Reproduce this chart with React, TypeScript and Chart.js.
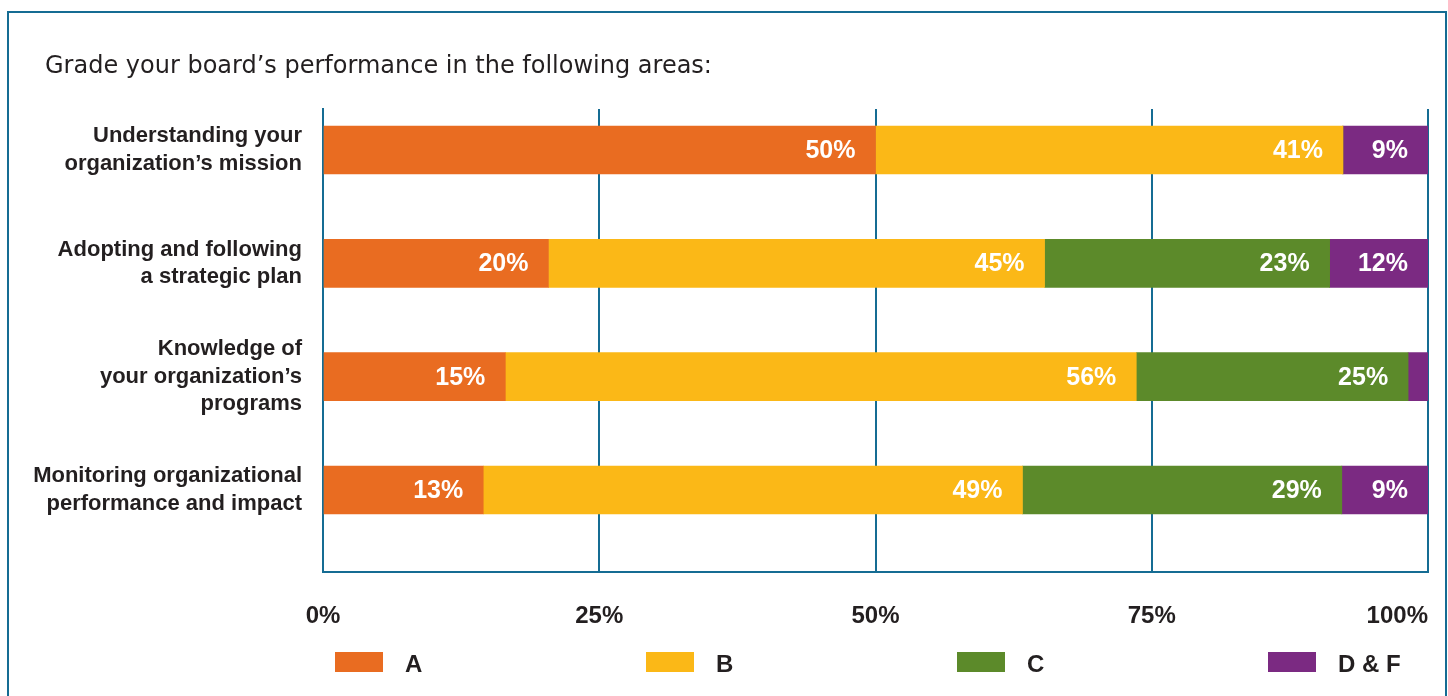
import React, { useEffect, useRef } from 'react';
import { Chart, registerables } from 'chart.js';

Chart.register(...registerables);

// ---------- data ----------
const TITLE = 'Grade your board’s performance in the following areas:';

const CATEGORIES: string[][] = [
  ['Understanding your', 'organization’s mission'],
  ['Adopting and following', 'a strategic plan'],
  ['Knowledge of', 'your organization’s', 'programs'],
  ['Monitoring organizational', 'performance and impact'],
];

const SERIES = ['A', 'B', 'C', 'D & F'];

// segment widths as drawn (share of the 0–100% axis)
const A_VALUES = [50.0, 20.4, 16.5, 14.5];
const B_VALUES = [42.3, 44.9, 57.1, 48.8];
const C_VALUES = [0, 25.8, 24.6, 28.9];
const DF_VALUES = [7.7, 8.9, 1.8, 7.8];

// printed segment labels
const A_LABELS = ['50%', '20%', '15%', '13%'];
const B_LABELS = ['41%', '45%', '56%', '49%'];
const C_LABELS = ['', '23%', '25%', '29%'];
const DF_LABELS = ['9%', '12%', '', '9%'];

const X_TICKS = [0, 25, 50, 75, 100];
const X_TICK_LABELS = ['0%', '25%', '50%', '75%', '100%'];

// ---------- styles ----------
const COLORS = ['#E96C21', '#FBB817', '#5C8A2A', '#7B2A82'];
const TEAL = '#156C93';
const INK = '#231F20';
const BOLD_FAMILY = '"Liberation Sans", Arial, sans-serif';
const TITLE_FAMILY = '"DejaVu Sans", sans-serif';

const VALUE_SETS = [A_VALUES, B_VALUES, C_VALUES, DF_VALUES];
const LABEL_SETS = [A_LABELS, B_LABELS, C_LABELS, DF_LABELS];

const customDraw = {
  id: 'customDraw',
  afterDatasetsDraw(chart: any) {
    const ctx = chart.ctx;
    ctx.save();
    ctx.fillStyle = '#FFFFFF';
    ctx.font = `bold 25px ${BOLD_FAMILY}`;
    ctx.textAlign = 'right';
    ctx.textBaseline = 'middle';
    chart.data.datasets.forEach((_ds: any, di: number) => {
      const meta = chart.getDatasetMeta(di);
      meta.data.forEach((el: any, j: number) => {
        const text = LABEL_SETS[di][j];
        if (!text) return;
        ctx.fillText(text, el.x - 20, el.y + 1);
      });
    });
    ctx.restore();
  },
  afterDraw(chart: any) {
    const { ctx, chartArea, scales } = chart;
    ctx.save();
    // title
    ctx.fillStyle = INK;
    ctx.font = `24px ${TITLE_FAMILY}`;
    ctx.textAlign = 'left';
    ctx.textBaseline = 'alphabetic';
    ctx.fillText(TITLE, 45, 73);

    // x tick labels
    ctx.font = `bold 24px ${BOLD_FAMILY}`;
    X_TICKS.forEach((v, i) => {
      const px = scales.x.getPixelForValue(v);
      ctx.textAlign = i === X_TICKS.length - 1 ? 'right' : 'center';
      ctx.fillText(X_TICK_LABELS[i], px, chartArea.bottom + 51);
    });

    // legend
    const cy = chartArea.bottom + 90;
    chart.data.datasets.forEach((ds: any, i: number) => {
      const x = chartArea.left + 12 + i * 311;
      ctx.fillStyle = ds.backgroundColor;
      ctx.fillRect(x, cy - 10, 48, 20);
      ctx.fillStyle = INK;
      ctx.textAlign = 'left';
      ctx.textBaseline = 'alphabetic';
      ctx.fillText(ds.label, x + 70, cy + 9.5);
    });
    ctx.restore();
  },
};

export default function App() {
  const ref = useRef<HTMLCanvasElement>(null);

  useEffect(() => {
    if (!ref.current) return;
    const chart = new Chart(ref.current, {
      type: 'bar',
      data: {
        datasets: SERIES.map((name, si) => ({
          label: name,
          data: VALUE_SETS[si].map((v, i) => ({ x: v, y: i })),
          backgroundColor: COLORS[si],
          borderWidth: 0,
          barThickness: 48,
        })),
      },
      options: {
        indexAxis: 'y',
        responsive: false,
        animation: false,
        layout: { padding: { top: 109, bottom: 124, left: 0, right: 20 } },
        plugins: {
          legend: { display: false },
          tooltip: { enabled: false },
          title: { display: false },
        },
        scales: {
          x: {
            type: 'linear',
            position: 'bottom',
            stacked: true,
            offset: false,
            min: 0,
            max: 100,
            ticks: { display: false, stepSize: 25 },
            afterBuildTicks: (scale: any) => {
              scale.ticks = X_TICKS.map((v) => ({ value: v }));
            },
            grid: { color: TEAL, lineWidth: 2, drawTicks: false, offset: false },
            border: { display: true, color: TEAL, width: 2 },
            afterFit: (scale: any) => {
              scale.height = 0;
              scale.paddingLeft = 0;
              scale.paddingRight = 0;
            },
          },
          y: {
            type: 'linear',
            position: 'left',
            stacked: true,
            reverse: true,
            offset: false,
            min: -0.362,
            max: 3.724,
            afterBuildTicks: (scale: any) => {
              scale.ticks = CATEGORIES.map((_c, i) => ({ value: i }));
            },
            ticks: {
              autoSkip: false,
              padding: 21,
              color: INK,
              font: { family: BOLD_FAMILY, size: 22, weight: 'bold', lineHeight: 1.25 },
              callback: (value: any) => CATEGORIES[Math.round(Number(value))] || '',
            },
            grid: { display: false, drawTicks: false, offset: false },
            border: { display: true, color: TEAL, width: 2 },
            afterFit: (scale: any) => {
              scale.width = 323;
              scale.paddingTop = 0;
              scale.paddingBottom = 0;
            },
          },
        },
      } as any,
      plugins: [customDraw],
    });
    return () => chart.destroy();
  }, []);

  return (
    <div
      style={{
        position: 'fixed',
        left: 0,
        top: 0,
        width: 1448,
        height: 696,
        background: '#FFFFFF',
        overflow: 'hidden',
      }}
    >
      <div
        style={{
          position: 'absolute',
          left: 7,
          top: 11,
          width: 1440,
          height: 740,
          border: `2px solid ${TEAL}`,
          boxSizing: 'border-box',
        }}
      />
      <canvas ref={ref} width={1448} height={696} style={{ position: 'absolute', left: 0, top: 0 }} />
    </div>
  );
}
